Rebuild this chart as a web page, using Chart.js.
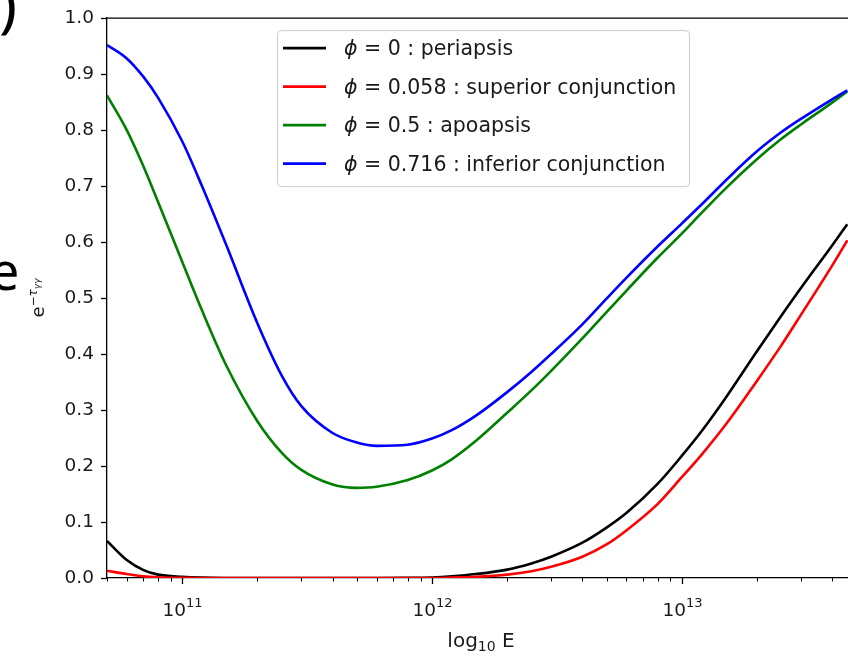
<!DOCTYPE html>
<html>
<head>
<meta charset="utf-8">
<script src="https://cdn.jsdelivr.net/npm/chart.js@4.4.1/dist/chart.umd.min.js"></script>
<style>
  html, body { margin: 0; padding: 0; background: #fff; }
</style>
</head>
<body>
<canvas id="myChart" width="848" height="658"></canvas>
<script>
// photon energy (eV) and survival probability exp(-tau_gg) for four orbital phases
let energy = [5e10, 6e10, 7e10, 8e10, 1e11, 1.2e11, 1.5e11, 2e11, 2.5e11, 3e11, 4e11, 5e11, 6e11, 8e11,
  1e12, 1.2e12, 1.5e12, 2e12, 2.5e12, 3e12, 4e12, 5e12, 6e12, 8e12,
  1e13, 1.2e13, 1.5e13, 2e13, 2.5e13, 3e13, 4e13, 4.6e13];

let periapsis = [0.066, 0.032, 0.014, 0.006, 0.002, 0.0006, 0.0001, 0, 0, 0, 0, 0, 0, 0.0003,
  0.001, 0.003, 0.007, 0.015, 0.026, 0.038, 0.063, 0.09, 0.116, 0.168,
  0.218, 0.262, 0.322, 0.405, 0.468, 0.518, 0.594, 0.632];

let superiorConj = [0.013, 0.007, 0.003, 0.0013, 0.0003, 0, 0, 0, 0, 0, 0, 0, 0, 0,
  0, 0.0008, 0.002, 0.006, 0.012, 0.02, 0.038, 0.06, 0.085, 0.132,
  0.18, 0.22, 0.274, 0.352, 0.415, 0.47, 0.558, 0.603];

let apoapsis = [0.862, 0.80, 0.735, 0.672, 0.565, 0.478, 0.38, 0.28, 0.224, 0.193, 0.167, 0.161, 0.163, 0.175,
  0.192, 0.212, 0.245, 0.295, 0.335, 0.37, 0.428, 0.475, 0.513, 0.572,
  0.615, 0.652, 0.696, 0.748, 0.784, 0.81, 0.849, 0.869];

let inferiorConj = [0.952, 0.928, 0.895, 0.858, 0.78, 0.70, 0.595, 0.455, 0.362, 0.307, 0.259, 0.242, 0.236, 0.238,
  0.249, 0.264, 0.29, 0.332, 0.368, 0.40, 0.453, 0.499, 0.536, 0.592,
  0.633, 0.667, 0.71, 0.762, 0.796, 0.82, 0.855, 0.871];

let phases = ['0', '0.058', '0.5', '0.716'];
let names = ['periapsis', 'superior conjunction', 'apoapsis', 'inferior conjunction'];
let colorHex = ['#000000', '#ff0000', '#008000', '#0000ff'];
let series = [periapsis, superiorConj, apoapsis, inferiorConj];

const FONT = '"DejaVu Sans", sans-serif';

let datasets = series.map((vals, i) => ({
  label: 'ϕ = ' + phases[i] + ' : ' + names[i],
  data: vals.map((v, j) => ({ x: energy[j], y: v })),
  borderColor: colorHex[i],
  backgroundColor: colorHex[i],
  order: series.length - i   // last one drawn on top
}));

// spines, log ticks, axis titles and the bits of neighbouring text
const axisDecor = {
  id: 'axisDecor',
  beforeDraw(chart) {
    const ctx = chart.ctx;
    ctx.save();
    ctx.fillStyle = '#fff';
    ctx.fillRect(0, 0, chart.width, chart.height);
    ctx.restore();
  },
  afterDraw(chart) {
    const { ctx, chartArea: a, scales: { x } } = chart;
    ctx.save();

    // top spine
    ctx.strokeStyle = '#000';
    ctx.lineWidth = 1.3;
    ctx.beginPath();
    ctx.moveTo(a.left, a.top);
    ctx.lineTo(a.right, a.top);
    ctx.stroke();

    // major / minor ticks on the log axis
    for (let p = 10; p <= 13; p++) {
      for (let k = 1; k <= 9; k++) {
        const v = k * Math.pow(10, p);
        if (v < x.min || v > x.max) continue;
        const px = Math.round(x.getPixelForValue(v)) + 0.5;
        ctx.lineWidth = k === 1 ? 1.3 : 1;
        ctx.beginPath();
        ctx.moveTo(px, a.bottom);
        ctx.lineTo(px, a.bottom + (k === 1 ? 6 : 3.5));
        ctx.stroke();
        if (k === 1) {
          ctx.fillStyle = '#1a1a1a';
          ctx.font = '18.5px ' + FONT;
          const wb = ctx.measureText('10').width;
          ctx.font = '13px ' + FONT;
          const we = ctx.measureText(String(p)).width;
          let sx = px - (wb + we) / 2;
          ctx.font = '18.5px ' + FONT;
          ctx.fillText('10', sx, a.bottom + 38);
          ctx.font = '13px ' + FONT;
          ctx.fillText(String(p), sx + wb, a.bottom + 29);
        }
      }
    }

    // x title: log10 E
    ctx.fillStyle = '#1a1a1a';
    ctx.font = '20px ' + FONT;
    const w1 = ctx.measureText('log').width;
    const w3 = ctx.measureText(' E').width;
    ctx.font = '14px ' + FONT;
    const w2 = ctx.measureText('10').width;
    let tx = 481 - (w1 + w2 + w3) / 2;
    const ty = 647;
    ctx.font = '20px ' + FONT;
    ctx.fillText('log', tx, ty);
    ctx.font = '14px ' + FONT;
    ctx.fillText('10', tx + w1, ty + 4);
    ctx.font = '20px ' + FONT;
    ctx.fillText(' E', tx + w1 + w2, ty);

    // y title: e^{-tau_gg}
    ctx.translate(44, (a.top + a.bottom) / 2);
    ctx.rotate(-Math.PI / 2);
    ctx.font = '18px ' + FONT;
    const we = ctx.measureText('e').width;
    ctx.font = '12px ' + FONT;
    const wm = ctx.measureText('−').width;
    ctx.font = 'italic 12px ' + FONT;
    const wt = ctx.measureText('τ').width;
    ctx.font = 'italic 9px ' + FONT;
    const wg = ctx.measureText('γγ').width;
    let cx = -(we + wm + wt + wg) / 2;
    ctx.font = '18px ' + FONT;
    ctx.fillText('e', cx, 0); cx += we;
    ctx.font = '12px ' + FONT;
    ctx.fillText('−', cx, -7); cx += wm;
    ctx.font = 'italic 12px ' + FONT;
    ctx.fillText('τ', cx, -7); cx += wt;
    ctx.font = 'italic 9px ' + FONT;
    ctx.fillText('γγ', cx, -4);
    ctx.restore();

    // pieces of the neighbouring panel text at the left border
    ctx.save();
    ctx.fillStyle = '#000';
    ctx.font = '60px "Noto Sans", sans-serif';
    ctx.fillText(')', -1, 26);
    ctx.font = '52px "Noto Sans", sans-serif';
    ctx.fillText('e', -10, 290);
    ctx.restore();
  }
};

// framed legend in the upper middle of the axes
const legendBox = {
  id: 'legendBox',
  afterDraw(chart) {
    const { ctx, chartArea: a } = chart;
    const bx = a.left + 170, by = a.top + 12, bw = 412, bh = 156;
    ctx.save();
    ctx.fillStyle = 'rgba(255,255,255,0.8)';
    ctx.strokeStyle = '#cccccc';
    ctx.lineWidth = 1;
    ctx.beginPath();
    ctx.roundRect(bx + 0.5, by + 0.5, bw, bh, 4);
    ctx.fill();
    ctx.stroke();

    chart.data.datasets.forEach((ds, i) => {
      const ry = by + 18 + i * 38.5;
      ctx.strokeStyle = ds.borderColor;
      ctx.lineWidth = 2.6;
      ctx.beginPath();
      ctx.moveTo(bx + 6, ry);
      ctx.lineTo(bx + 49, ry);
      ctx.stroke();

      ctx.fillStyle = '#1a1a1a';
      ctx.font = 'italic 20.5px ' + FONT;
      const sym = ds.label.charAt(0);
      ctx.fillText(sym, bx + 67, ry + 7);
      const ws = ctx.measureText(sym).width;
      ctx.font = '20.5px ' + FONT;
      ctx.fillText(ds.label.slice(1), bx + 67 + ws, ry + 7);
    });
    ctx.restore();
  }
};

let ctx = document.getElementById('myChart').getContext('2d');

let myChart = new Chart(ctx, {
  type: 'line',
  data: { datasets: datasets },
  options: {
    responsive: false,
    animation: false,
    layout: { padding: { top: 18, right: 0, bottom: 0, left: 0 } },
    plugins: {
      legend: { display: false },
      tooltip: { enabled: false }
    },
    elements: {
      point: { radius: 0 },
      line: { borderWidth: 2.6, cubicInterpolationMode: 'monotone' }
    },
    scales: {
      x: {
        type: 'logarithmic',
        min: 5e10,
        max: 4.63e13,
        grid: { display: false },
        border: { display: true, color: '#000', width: 1.3 },
        ticks: { display: false },
        afterFit: (s) => { s.height = 80; }
      },
      y: {
        min: 0,
        max: 1,
        grid: { display: true, drawOnChartArea: false, drawTicks: true, tickLength: 6, tickColor: '#000', tickWidth: 1.3 },
        border: { display: true, color: '#000', width: 1.3 },
        ticks: {
          stepSize: 0.1,
          padding: 7,
          color: '#1a1a1a',
          font: { family: FONT, size: 18.5 },
          callback: (v) => v.toFixed(1)
        },
        afterFit: (s) => { s.width = 107; }
      }
    }
  },
  plugins: [axisDecor, legendBox]
});
</script>
</body>
</html>
